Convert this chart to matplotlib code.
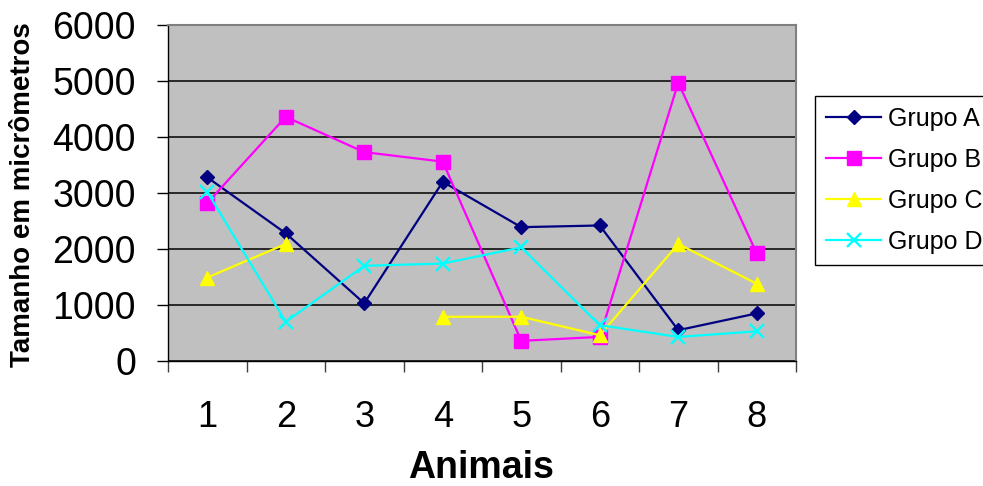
import numpy as np
import matplotlib
matplotlib.use("Agg")
import matplotlib.pyplot as plt

plt.rcParams["font.family"] = ["Liberation Sans", "DejaVu Sans"]

animais = ["1", "2", "3", "4", "5", "6", "7", "8"]
grupo_a = [3280, 2280, 1030, 3200, 2390, 2420, 550, 850]
grupo_b = [2820, 4360, 3730, 3560, 360, 430, 4970, 1920]
grupo_c = [1490, 2090, np.nan, 790, 790, 460, 2090, 1380]
grupo_d = [3020, 700, 1700, 1740, 2030, 640, 430, 530]

series = [
    ("Grupo A", grupo_a, "#000080", "D", 7.0),
    ("Grupo B", grupo_b, "#FF00FF", "s", 9.5),
    ("Grupo C", grupo_c, "#FFFF00", "^", 10.0),
    ("Grupo D", grupo_d, "#00FFFF", "x", 9.5),
]

fig = plt.figure(figsize=(9.83, 4.86), dpi=100)
ax = fig.add_axes([168 / 983, 1 - 361 / 486, 628 / 983, 336 / 486])
ax.set_facecolor("#C0C0C0")

x = np.arange(1, len(animais) + 1)
for label, vals, color, marker, ms in series:
    ax.plot(x, vals, color=color, lw=1.6, marker=marker, markersize=ms,
            markerfacecolor=color, markeredgecolor=color,
            markeredgewidth=1.7 if marker == "x" else 1.0,
            label=label, clip_on=False, zorder=3)

ax.set_xlim(0.5, len(animais) + 0.5)
ax.set_ylim(0, 6000)
ax.set_yticks(np.arange(0, 6001, 1000))
ax.yaxis.grid(True, color="black", lw=1.1)
ax.set_axisbelow(True)

# category boundaries get the tick marks, centers get the labels
ax.set_xticks(np.arange(0.5, len(animais) + 1, 1.0))
ax.set_xticklabels([])
ax.set_xticks(x, minor=True)
ax.set_xticklabels(animais, minor=True)
ax.tick_params(axis="x", which="major", direction="out", length=8,
               width=1, color="#404040")
ax.tick_params(axis="x", which="minor", length=0, pad=28, labelsize=26)
ax.tick_params(axis="y", direction="out", length=8, width=1,
               pad=15, labelsize=27)

for side in ("left", "bottom"):
    ax.spines[side].set_color("black")
    ax.spines[side].set_linewidth(1.0)
for side in ("top", "right"):
    ax.spines[side].set_color("#808080")
    ax.spines[side].set_linewidth(1.5)

fig.text(23 / 983, 1 - 195 / 486, "Tamanho em micrômetros", rotation=90,
         ha="center", va="center", fontsize=20, fontweight="bold")
fig.text(481 / 983, 1 - 478 / 486, "Animais", ha="center", va="baseline",
         fontsize=27, fontweight="bold")

leg = ax.legend(loc="upper left", bbox_to_anchor=(815 / 983, 1 - 96 / 486),
                bbox_transform=fig.transFigure, borderaxespad=0,
                fontsize=18, fancybox=False, framealpha=1, edgecolor="black",
                handlelength=2.2, handletextpad=0.25, labelspacing=0.68,
                borderpad=0.45)
leg.get_frame().set_linewidth(1.0)

fig.savefig("out.png", dpi=100)
